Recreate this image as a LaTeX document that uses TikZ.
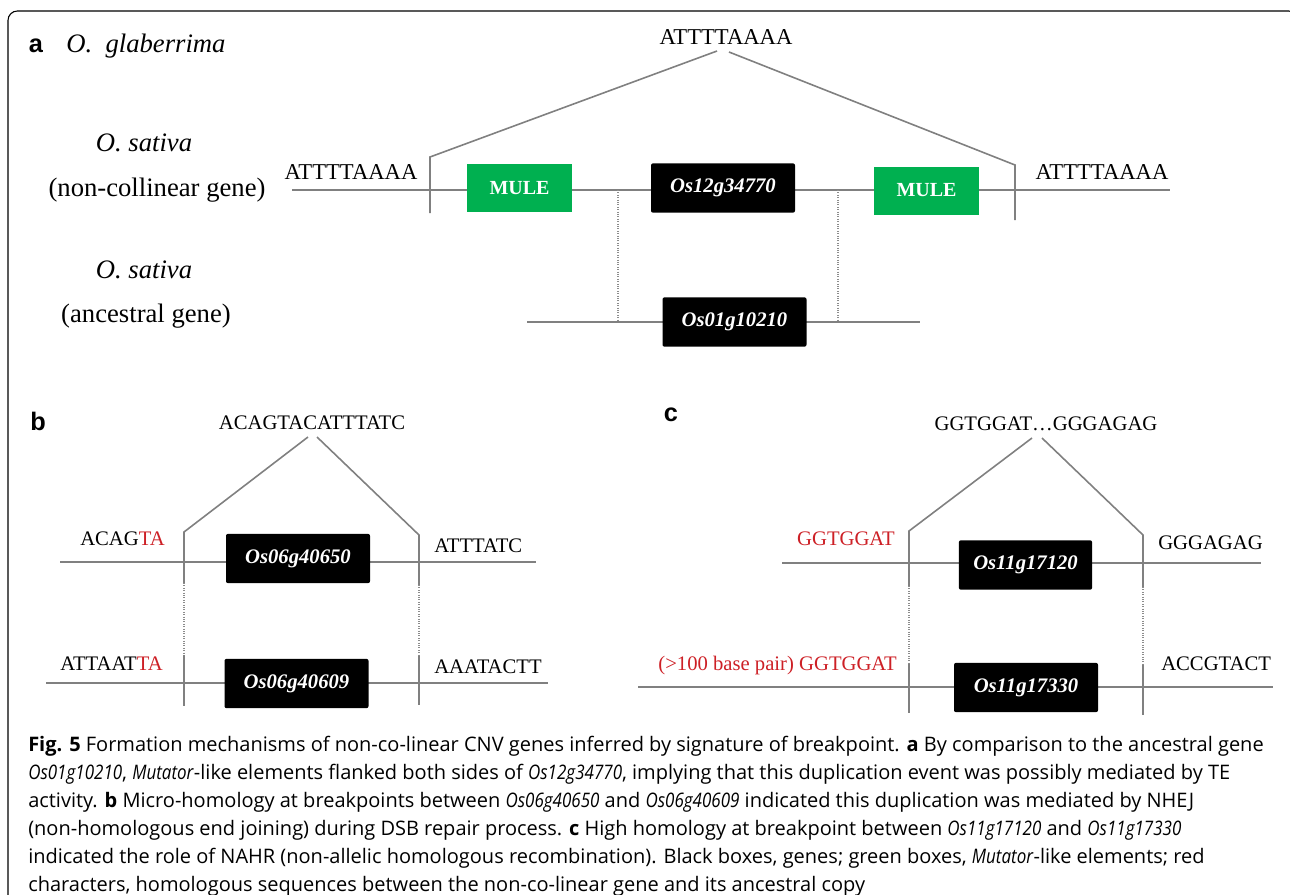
\documentclass[tikz,border=0pt]{standalone}
\usepackage{fontspec}
\setmainfont{Liberation Serif}
\newfontfamily\capfont[ItalicFeatures={FakeStretch=0.85}]{Open Sans}
\newfontfamily\labfont{Liberation Sans}
\usepackage{xcolor}
\usetikzlibrary{positioning}
\definecolor{mulegreen}{RGB}{0,176,80}
\definecolor{seqred}{RGB}{205,32,38}
\definecolor{linegray}{RGB}{128,128,128}
\definecolor{dotgray}{RGB}{140,140,140}

\begin{document}
\begin{tikzpicture}[x=0.75pt,y=-0.75pt,
  dna/.style={linegray,line width=1.5pt},
  brk/.style={linegray,line width=1.2pt},
  lnk/.style={dotgray,densely dotted,line width=0.8pt},
  gene/.style={fill=black,rounded corners=1.5pt,text=white,inner sep=0pt,minimum width=108pt,
               minimum height=37pt,font=\fontsize{15.5}{15.5}\selectfont\bfseries\itshape},
  mule/.style={fill=mulegreen,text=white,inner sep=0pt,minimum width=79pt,minimum height=36pt,
               font=\fontsize{15}{15}\selectfont\bfseries},
  seq/.style={inner sep=0pt,font=\fontsize{17}{18}\selectfont},
  seqs/.style={inner sep=0pt,font=\fontsize{15.5}{17}\selectfont},
  species/.style={inner sep=0pt,font=\fontsize{20}{22}\selectfont},
  panel/.style={inner sep=0pt,font=\labfont\bfseries\fontsize{19}{20}\selectfont},
  capt/.style={inner sep=0pt,anchor=base west,font=\capfont\fontsize{15}{16}\selectfont}]
  \useasboundingbox (0,0) rectangle (1290,894);
  \draw[line width=0.8pt,rounded corners=7pt] (8,900) -- (8,11) -- (1298,11) -- (1298,900);

  % panel a
  \node[panel] (pa) at (36,46) {a};
  \node[species,anchor=west] (glab) at (66,46) {\itshape O.\ \ glaberrima};
  \node[species] (sat1) at (144,143) {\itshape O. sativa};
  \node[species] (ncg) at (157,190) {(non-collinear gene)};
  \node[species] (sat2) at (144,270) {\itshape O. sativa};
  \node[species] (anc) at (146,316) {(ancestral gene)};
  \node[seq,anchor=base] (sqa) at (726,44) {ATTTTAAAA};
  \node[seq,anchor=base] (sqaL) at (351,179) {ATTTTAAAA};
  \node[seq,anchor=base] (sqaR) at (1102,179) {ATTTTAAAA};
  \coordinate (a0) at (292,190); \coordinate (a9) at (1170,190);
  \coordinate (b0) at (527,322); \coordinate (b9) at (920,322);
  \draw[dna] (a0) -- (a9);
  \draw[dna] (b0) -- (b9);
  \coordinate (pkL) at (717,51); \coordinate (kL) at (430,157); \coordinate (kLb) at (430,213);
  \coordinate (pkR) at (729,52); \coordinate (kR) at (1015,165); \coordinate (kRb) at (1015,220);
  \draw[brk] (pkL) -- (kL) -- (kLb);
  \draw[brk] (pkR) -- (kR) -- (kRb);
  \coordinate (d1) at (618,190); \coordinate (d1b) at (618,322);
  \coordinate (d2) at (838,190); \coordinate (d2b) at (838,322);
  \foreach \s/\t in {d1/d1b,d2/d2b} \draw[lnk] (\s) -- (\t);
  \node[mule] (m1) at (519.5,188) {MULE};
  \node[mule] (m2) at (926.5,190.5) {MULE};
  \node[gene] (g1) at (723,188) {Os12g34770};
  \node[gene] (g2) at (734.5,322) {Os01g10210};

  % panel b
  \node[panel] (pb) at (38,421) {b};
  \node[seqs,anchor=base] (sqb) at (312,429) {ACAGTACATTTATC};
  \node[seqs,anchor=base east] (sqb1) at (165,545) {ACAG\textcolor{seqred}{TA}};
  \node[seqs,anchor=base west] (sqb2) at (434,552) {ATTTATC};
  \node[seqs,anchor=base east] (sqb3) at (163,670) {ATTAAT\textcolor{seqred}{TA}};
  \node[seqs,anchor=base west] (sqb4) at (434,673) {AAATACTT};
  \coordinate (c0) at (60,562); \coordinate (c9) at (536,562);
  \coordinate (e0) at (46,683); \coordinate (e9) at (548,683);
  \draw[dna] (c0) -- (c9);
  \draw[dna] (e0) -- (e9);
  \coordinate (pbL) at (308,437); \coordinate (bL) at (184,532); \coordinate (bL1) at (184,583);
  \coordinate (bL2) at (184,655); \coordinate (bL3) at (184,706);
  \coordinate (pbR) at (317,437); \coordinate (bR) at (419,535); \coordinate (bR1) at (419,585);
  \coordinate (bR2) at (419,655); \coordinate (bR3) at (419,705);
  \draw[brk] (pbL) -- (bL) -- (bL1);
  \draw[brk] (pbR) -- (bR) -- (bR1);
  \draw[brk] (bL2) -- (bL3);
  \draw[brk] (bR2) -- (bR3);
  \foreach \s/\t in {bL1/bL2,bR1/bR2} \draw[lnk] (\s) -- (\t);
  \node[gene] (g3) at (298,558.5) {Os06g40650};
  \node[gene] (g4) at (296.5,683.5) {Os06g40609};

  % panel c
  \node[panel] (pc) at (671,415) {c};
  \node[seqs,anchor=base] (sqc) at (1046,430) {GGTGGAT\ldots GGGAGAG};
  \node[seqs,anchor=base east,text=seqred] (sqc1) at (895,545) {GGTGGAT};
  \node[seqs,anchor=base west] (sqc2) at (1158,549) {GGGAGAG};
  \node[seqs,anchor=base east,text=seqred] (sqc3) at (897,670) {(>100 base pair) GGTGGAT};
  \node[seqs,anchor=base west] (sqc4) at (1161,670) {ACCGTACT};
  \coordinate (f0) at (782,563); \coordinate (f9) at (1261,563);
  \coordinate (h0) at (638,687); \coordinate (h9) at (1273,687);
  \draw[dna] (f0) -- (f9);
  \draw[dna] (h0) -- (h9);
  \coordinate (pcL) at (1032,438); \coordinate (cL) at (909,531); \coordinate (cL1) at (909,586);
  \coordinate (cL2) at (909,663); \coordinate (cL3) at (909,713);
  \coordinate (pcR) at (1042,438); \coordinate (cR) at (1143,535); \coordinate (cR1) at (1143,587);
  \coordinate (cR2) at (1143,665); \coordinate (cR3) at (1143,715);
  \draw[brk] (pcL) -- (cL) -- (cL1);
  \draw[brk] (pcR) -- (cR) -- (cR1);
  \draw[brk] (cL2) -- (cL3);
  \draw[brk] (cR2) -- (cR3);
  \foreach \s/\t in {cL1/cL2,cR1/cR2} \draw[lnk] (\s) -- (\t);
  \node[gene,minimum width=100pt] (g5) at (1025.5,565) {Os11g17120};
  \node[gene] (g6) at (1026,687.5) {Os11g17330};

  % caption
  \foreach \t [count=\i] in {
    {\textbf{Fig. 5} Formation mechanisms of non-co-linear CNV genes inferred by signature of breakpoint. \textbf{a} By comparison to the ancestral gene},
    {\textit{Os01g10210}, \textit{Mutator}-like elements flanked both sides of \textit{Os12g34770}, implying that this duplication event was possibly mediated by TE},
    {activity. \textbf{b} Micro-homology at breakpoints between \textit{Os06g40650} and \textit{Os06g40609} indicated this duplication was mediated by NHEJ},
    {(non-homologous end joining) during DSB repair process. \textbf{c} High homology at breakpoint between \textit{Os11g17120} and \textit{Os11g17330}},
    {indicated the role of NAHR (non-allelic homologous recombination). Black boxes, genes; green boxes, \textit{Mutator}-like elements; red},
    {characters, homologous sequences between the non-co-linear gene and its ancestral copy}}
    \node[capt] (cap\i) at (28,{751+28*(\i-1)}) {\t};
\end{tikzpicture}
\end{document}
